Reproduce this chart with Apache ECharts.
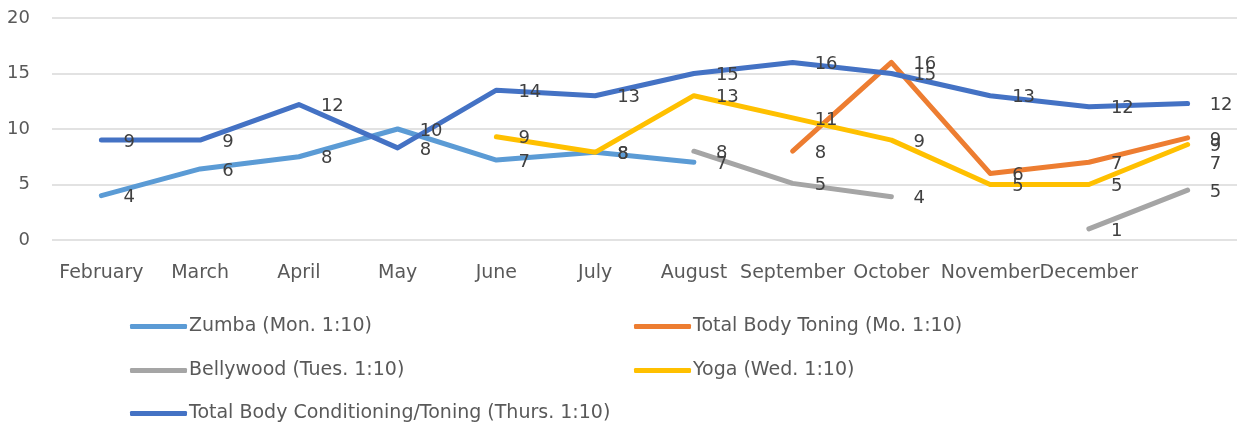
<!DOCTYPE html>
<html>
<head>
<meta charset="utf-8">
<script src="https://cdn.jsdelivr.net/npm/echarts@6/dist/echarts.min.js"></script>
<style>
  html, body { margin: 0; padding: 0; background: #fff; }
  #main { width: 1244px; height: 430px; }
</style>
</head>
<body>
<div id="main"></div>
<script>
var months = ['February', 'March', 'April', 'May', 'June', 'July', 'August', 'September', 'October', 'November', 'December', ''];
var yTicks = [0, 5, 10, 15, 20];

// attendance per month, null = class not running
var zumba = [4, 6.4, 7.5, 10, 7.2, 7.9, 7, null, null, null, null, 7];
var toning = [null, null, null, null, null, null, null, 8, 16, 6, 7, 9.2];
var bellywood = [null, null, null, null, null, null, 8, 5.1, 3.9, null, 1, 4.5];
var yoga = [null, null, null, null, 9.3, 7.9, 13, 11, 9, 5, 5, 8.6];
var conditioning = [9, 9, 12.2, 8.3, 13.5, 13, 15, 16, 15, 13, 12, 12.3];

var names = ['Zumba (Mon. 1:10)', 'Total Body Toning (Mo. 1:10)', 'Bellywood (Tues. 1:10)', 'Yoga (Wed. 1:10)', 'Total Body Conditioning/Toning (Thurs. 1:10)'];
var colors = ['#5B9BD5', '#ED7D31', '#A5A5A5', '#FFC000', '#4472C4'];
var values = [zumba, toning, bellywood, yoga, conditioning];

var font = '"DejaVu Sans", sans-serif';
var chart = echarts.init(document.getElementById('main'));

var series = [];
for (var i = 0; i < values.length; i++) {
    series.push({
        name: names[i],
        type: 'line',
        data: values[i],
        symbol: 'circle',
        symbolSize: 0,
        showSymbol: true,
        connectNulls: false,
        lineStyle: { color: colors[i], width: 5, cap: 'round', join: 'round' },
        itemStyle: { color: colors[i] },
        label: {
            show: true,
            position: 'right',
            distance: 22,
            offset: [0, 2],
            color: '#404040',
            fontSize: 18,
            fontFamily: font,
            formatter: function (p) { return Math.round(p.value); }
        },
        emphasis: { disabled: true }
    });
}

// one legend per entry, two columns
var legendPos = [[125, 312], [629, 312], [125, 356], [629, 356], [125, 399]];
var legends = [];
for (var j = 0; j < names.length; j++) {
    legends.push({
        data: [names[j]],
        left: legendPos[j][0],
        top: legendPos[j][1],
        icon: 'roundRect',
        itemWidth: 57,
        itemHeight: 5,
        itemGap: 0,
        textStyle: { color: '#595959', fontSize: 19, fontFamily: font, padding: [0, 0, 0, -3] },
        selectedMode: false
    });
}

var option = {
    animation: false,
    grid: { left: 52, right: 7, top: 18, bottom: 190 },
    xAxis: {
        type: 'category',
        data: months,
        boundaryGap: true,
        axisLine: { show: false },
        axisTick: { show: false },
        axisLabel: { interval: 0, color: '#595959', fontSize: 19, fontFamily: font, margin: 24 }
    },
    yAxis: {
        type: 'value',
        min: yTicks[0],
        max: yTicks[yTicks.length - 1],
        interval: 5,
        axisLine: { show: false },
        axisTick: { show: false },
        axisLabel: { color: '#595959', fontSize: 18, fontFamily: font, margin: 22 },
        splitLine: { lineStyle: { color: '#D9D9D9', width: 1.5 } }
    },
    legend: legends,
    series: series
};
chart.setOption(option);
</script>
</body>
</html>
